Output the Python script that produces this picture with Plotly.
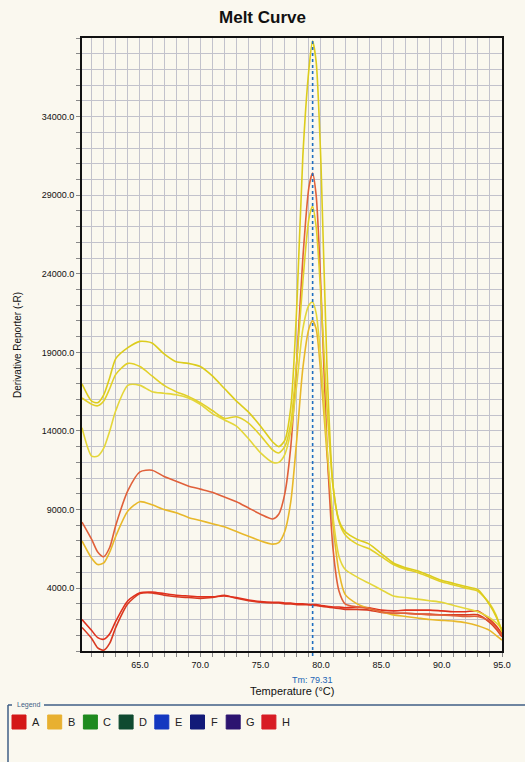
import plotly.graph_objects as go

# Temperature grid (°C) shared by all wells
temperature = [60.2, 61.0, 61.5, 62.0, 62.5, 63.0, 64.0, 65.0, 66.0, 67.0, 68.0, 69.0,
               70.0, 71.0, 72.0, 73.0, 74.0, 75.0, 76.0, 76.5, 77.0, 77.5,
               78.0, 78.5, 79.0, 79.3, 79.6, 80.0, 80.5, 81.0, 81.5, 82.0,
               83.0, 84.0, 85.0, 86.0, 87.0, 88.0, 89.0, 90.0, 91.0, 92.0,
               93.0, 94.0, 94.5, 95.0]

# Derivative reporter (-R') per well
well_y1 = [17000, 15900, 15800, 16300, 17400, 18600, 19300, 19700, 19600, 18900, 18400, 18300,
           18100, 17500, 16700, 15900, 15200, 14300, 13300, 13000, 13400, 15500,
           22000, 31500, 37000, 38800, 37500, 31000, 18000, 10500, 8300, 7600,
           7100, 6800, 6200, 5600, 5300, 5100, 4800, 4500, 4300, 4100,
           3900, 2900, 2200, 1300]
well_y2 = [16100, 15700, 15600, 15900, 16700, 17600, 18300, 18100, 17500, 16900, 16500, 16200,
           15800, 15300, 14800, 14900, 14500, 13700, 12800, 12600, 13000, 14500,
           18500, 23500, 27500, 28300, 27000, 22500, 15500, 10500, 8200, 7400,
           6800, 6500, 6000, 5500, 5200, 5000, 4700, 4400, 4200, 4000,
           3800, 3000, 2300, 1200]
well_y3 = [14200, 12400, 12400, 12900, 14000, 15300, 16900, 16900, 16500, 16400, 16300, 16100,
           15700, 15100, 14700, 14300, 13500, 12600, 12000, 12000, 12500, 14000,
           17000, 20500, 22000, 22200, 21500, 18500, 13000, 8500, 6000, 5200,
           4700, 4300, 3900, 3500, 3400, 3300, 3200, 3100, 2900, 2700,
           2500, 2100, 1800, 1400]
well_o1 = [8200, 7100, 6300, 6000, 6600, 8000, 10200, 11400, 11500, 11100, 10800, 10500,
           10300, 10100, 9800, 9500, 9100, 8700, 8400, 8700, 10000, 13000,
           18500, 25000, 29500, 30400, 29000, 23000, 13000, 6500, 3800, 3000,
           2800, 2700, 2500, 2400, 2400, 2350, 2300, 2300, 2250, 2200,
           2200, 1900, 1500, 1000]
well_y4 = [7000, 5900, 5500, 5600, 6300, 7300, 8900, 9500, 9300, 9000, 8800, 8500,
           8300, 8100, 7900, 7600, 7300, 7000, 6800, 6900, 7600, 9500,
           13500, 18000, 20500, 21000, 20500, 17500, 12500, 8000, 5000, 3600,
           3000, 2700, 2500, 2300, 2200, 2100, 2000, 1950, 1900, 1800,
           1600, 1300, 1000, 700]
well_r1 = [2000, 1300, 850, 750, 1100, 1900, 3200, 3700, 3750, 3650, 3550, 3500,
           3450, 3450, 3500, 3400, 3250, 3150, 3100, 3100, 3050, 3050,
           3000, 3000, 2950, 2950, 2950, 2900, 2850, 2800, 2800, 2750,
           2800, 2750, 2600, 2550, 2600, 2600, 2600, 2550, 2500, 2500,
           2550, 2000, 1600, 1100]
well_r2 = [1500, 800, 200, 50, 500, 1500, 3000, 3650, 3700, 3550, 3450, 3400,
           3350, 3400, 3550, 3350, 3200, 3100, 3050, 3050, 3000, 3000,
           2950, 2950, 2950, 2900, 2900, 2850, 2800, 2750, 2700, 2650,
           2650, 2600, 2450, 2400, 2400, 2350, 2350, 2300, 2300, 2300,
           2300, 1800, 1400, 900]

series = [
    (well_r2, "#d83a22"),
    (well_r1, "#e0301c"),
    (well_y4, "#e8b82a"),
    (well_o1, "#e0603a"),
    (well_y3, "#e4d63a"),
    (well_y2, "#e2d028"),
    (well_y1, "#dccc1c"),
]

tm_value = 79.31
x_ticks = [65.0, 70.0, 75.0, 80.0, 85.0, 90.0, 95.0]
y_ticks = [4000, 9000, 14000, 19000, 24000, 29000, 34000]

legend_labels = ["A", "B", "C", "D", "E", "F", "G", "H"]
legend_colors = ["#d41818", "#e8b030", "#1f8a1f", "#0f4a30",
                 "#1438c0", "#121a78", "#2c1470", "#d81c24"]

W, H = 525, 762
L, R, T, B = 82, 502, 38, 651
BG = "#faf8ef"
GRID = "#c2c2cc"


def px_x(px):
    return (px - L) / (R - L)


def px_y(py):
    return (B - py) / (B - T)


fig = go.Figure()
for values, color in series:
    fig.add_trace(go.Scatter(
        x=temperature, y=values, mode="lines",
        line=dict(color=color, width=1.6, shape="spline", smoothing=0.7),
        showlegend=False, hoverinfo="skip"))

# Tm marker
fig.add_shape(type="line", xref="x", yref="paper", x0=tm_value, x1=tm_value,
              y0=-0.008, y1=1, line=dict(color="#1e6ec0", width=1.6, dash="dot"))
fig.add_annotation(x=tm_value, xref="x", y=px_y(680), yref="paper",
                   xanchor="center", yanchor="middle",
                   text="Tm: 79.31", showarrow=False,
                   font=dict(family="Liberation Sans", size=9, color="#2264b4"))

fig.add_annotation(x=px_x(292), xref="paper", y=px_y(691), yref="paper",
                   xanchor="center", yanchor="middle",
                   text="Temperature (°C)", showarrow=False,
                   font=dict(family="Liberation Sans", size=11, color="#111"))
fig.add_annotation(x=px_x(17), xref="paper", y=px_y(345), yref="paper",
                   xanchor="center", yanchor="middle",
                   text="Derivative Reporter (-R)", textangle=-90, showarrow=False,
                   font=dict(family="Liberation Sans", size=10, color="#111"))

# Legend panel
frame = dict(color="#3f5f86", width=1.5)
fig.add_shape(type="line", xref="paper", yref="paper",
              x0=px_x(8), x1=px_x(8), y0=px_y(705), y1=px_y(770), line=frame)
fig.add_shape(type="line", xref="paper", yref="paper",
              x0=px_x(8), x1=px_x(12), y0=px_y(705), y1=px_y(705), line=frame)
fig.add_shape(type="line", xref="paper", yref="paper",
              x0=px_x(44), x1=px_x(530), y0=px_y(705), y1=px_y(705), line=frame)
fig.add_annotation(x=px_x(28), xref="paper", y=px_y(705), yref="paper",
                   xanchor="center", yanchor="middle",
                   text="Legend", showarrow=False,
                   font=dict(family="Liberation Sans", size=7, color="#3f5f86"))
for i, (lab, col) in enumerate(zip(legend_labels, legend_colors)):
    x0 = 12 + i * 35.7
    fig.add_shape(type="rect", xref="paper", yref="paper",
                  x0=px_x(x0), x1=px_x(x0 + 14), y0=px_y(729), y1=px_y(715),
                  fillcolor=col, line=dict(color=col, width=1))
    fig.add_annotation(x=px_x(x0 + 18), xref="paper", y=px_y(722), yref="paper",
                       text=lab, showarrow=False, xanchor="left", yanchor="middle",
                       font=dict(family="Liberation Sans", size=11, color="#222"))

axis_font = dict(family="Liberation Sans", size=9, color="#111")
fig.update_xaxes(
    range=[60.2, 95.0], tickmode="array", tickvals=x_ticks, tickformat=".1f",
    ticks="outside", ticklen=4, tickcolor="#888", tickfont=axis_font,
    showgrid=True, gridcolor=GRID, gridwidth=1,
    minor=dict(dtick=1, tick0=60, showgrid=True, gridcolor=GRID, gridwidth=1,
               ticks="outside", ticklen=4, tickcolor="#888"),
    showline=True, linecolor="#111", linewidth=2, mirror=True, zeroline=False)
fig.update_yaxes(
    range=[0, 39000], tickmode="array", tickvals=y_ticks, tickformat=".1f",
    ticks="outside", ticklen=4, tickcolor="#888", tickfont=axis_font,
    showgrid=True, gridcolor=GRID, gridwidth=1,
    minor=dict(dtick=1000, tick0=0, showgrid=True, gridcolor=GRID, gridwidth=1,
               ticks="outside", ticklen=4, tickcolor="#888"),
    showline=True, linecolor="#111", linewidth=2, mirror=True, zeroline=False)

fig.update_layout(
    width=W, height=H, autosize=False,
    margin=dict(l=L, r=W - R, t=T, b=H - B),
    paper_bgcolor=BG, plot_bgcolor=BG,
    title=dict(text="<b>Melt Curve</b>", x=0.5, xref="container", xanchor="center",
               y=1 - 17 / H, yref="container", yanchor="middle",
               font=dict(family="Liberation Sans", size=17, color="#111")),
)

fig.write_html("out.html")
